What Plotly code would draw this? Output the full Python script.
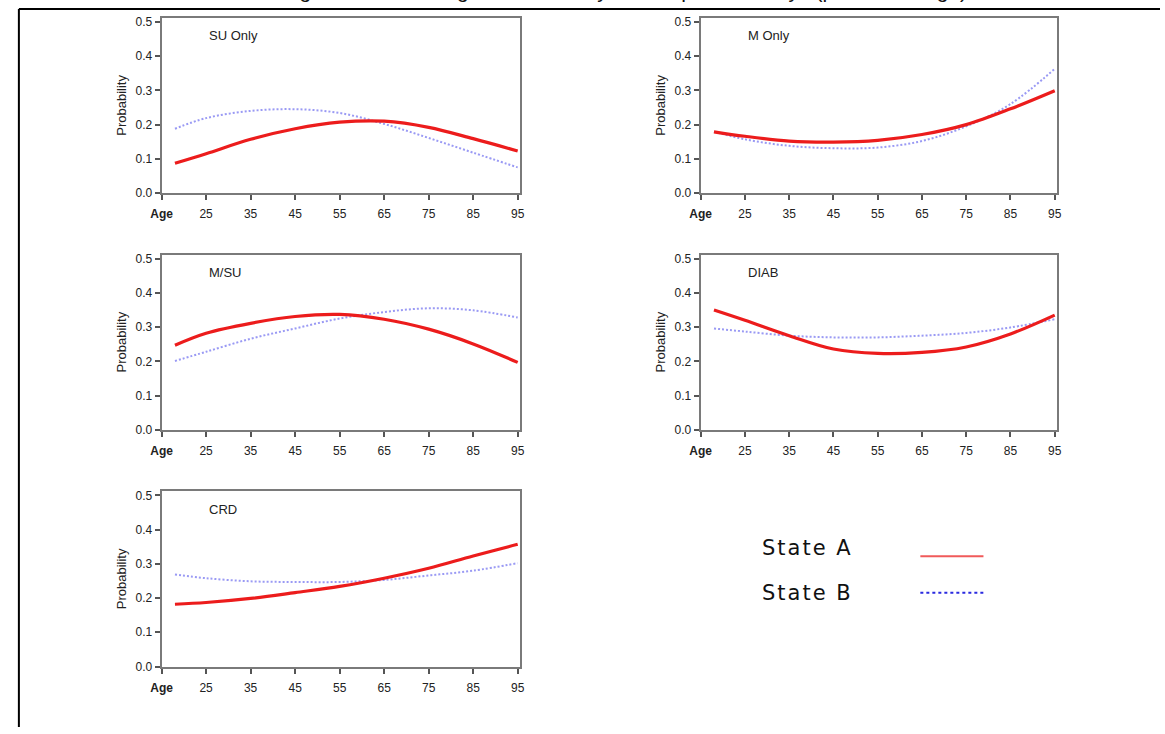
import plotly.graph_objects as go

# Age grid shared by all panels
ages = [18, 25, 35, 45, 55, 65, 75, 85, 95]

# Probability curves per diagnosis group (State A = solid red, State B = dotted blue)
su_only_a = [0.087, 0.115, 0.157, 0.188, 0.207, 0.210, 0.192, 0.159, 0.123]
su_only_b = [0.188, 0.219, 0.240, 0.245, 0.234, 0.202, 0.161, 0.118, 0.075]
m_only_a = [0.179, 0.166, 0.152, 0.149, 0.154, 0.171, 0.200, 0.246, 0.299]
m_only_b = [0.179, 0.157, 0.138, 0.131, 0.133, 0.152, 0.195, 0.260, 0.363]
m_su_a = [0.247, 0.282, 0.311, 0.331, 0.337, 0.323, 0.294, 0.251, 0.197]
m_su_b = [0.201, 0.228, 0.266, 0.296, 0.325, 0.344, 0.355, 0.349, 0.328]
diab_a = [0.350, 0.320, 0.275, 0.236, 0.223, 0.226, 0.242, 0.280, 0.335]
diab_b = [0.296, 0.287, 0.275, 0.270, 0.270, 0.275, 0.283, 0.299, 0.323]
crd_a = [0.182, 0.187, 0.199, 0.216, 0.234, 0.258, 0.287, 0.323, 0.357]
crd_b = [0.269, 0.258, 0.249, 0.247, 0.247, 0.253, 0.266, 0.280, 0.302]

panel_titles = ["SU Only", "M Only", "M/SU", "DIAB", "CRD"]
series_a = [su_only_a, m_only_a, m_su_a, diab_a, crd_a]
series_b = [su_only_b, m_only_b, m_su_b, diab_b, crd_b]

x_tick_vals = [15, 25, 35, 45, 55, 65, 75, 85, 95]
x_tick_text = ["<b>Age</b>", "25", "35", "45", "55", "65", "75", "85", "95"]
y_tick_vals = [0.0, 0.1, 0.2, 0.3, 0.4, 0.5]
y_tick_text = ["0.0", "0.1", "0.2", "0.3", "0.4", "0.5"]
legend_labels = ["State A", "State B"]

W, H = 1165, 734
FONT = "Liberation Sans, Arial, sans-serif"
RED = "#ec1c1c"
BLUE = "#9a9af4"
FRAME = "#7a7a7a"


def px_x(p):
    return p / W


def px_y(p):
    return 1 - p / H


# Panel boxes in pixels: (left, right, top, bottom)
col_lr = [(152.7, 516.0), (699.3, 1060.5)]
row_tb = [(15.0, 192.7), (255.0, 432.7), (495.0, 672.7)]
positions = [(0, 0), (0, 1), (1, 0), (1, 1), (2, 0)]

fig = go.Figure()
annotations = []

for i, (r, c) in enumerate(positions):
    n = i + 1
    xa = "x" if n == 1 else f"x{n}"
    ya = "y" if n == 1 else f"y{n}"
    fig.add_trace(go.Scatter(
        x=ages, y=series_b[i], xaxis=xa, yaxis=ya, mode="lines",
        line=dict(color=BLUE, width=2, dash="2px,2px", shape="spline"),
        showlegend=False, hoverinfo="skip"))
    fig.add_trace(go.Scatter(
        x=ages, y=series_a[i], xaxis=xa, yaxis=ya, mode="lines",
        line=dict(color=RED, width=3.2, shape="spline"),
        showlegend=False, hoverinfo="skip"))

    left, right = col_lr[c]
    top, bottom = row_tb[r]
    axis_common = dict(
        showline=True, linecolor=FRAME, linewidth=2, mirror=True,
        ticks="outside", ticklen=5, tickwidth=1.5, tickcolor="#555",
        showgrid=False, zeroline=False,
        tickfont=dict(family=FONT, size=12, color="#222"),
    )
    fig.layout[f"xaxis{n}" if n > 1 else "xaxis"] = dict(
        axis_common, domain=[px_x(left), px_x(right)], range=[15, 95.5],
        tickvals=x_tick_vals, ticktext=x_tick_text, anchor=ya,
        ticklabelstandoff=4)
    fig.layout[f"yaxis{n}" if n > 1 else "yaxis"] = dict(
        axis_common, domain=[px_y(bottom), px_y(top)], range=[0, 0.512],
        tickvals=y_tick_vals, ticktext=y_tick_text, anchor=xa,
        title=dict(text="Probability", standoff=6,
                   font=dict(family=FONT, size=13, color="#222")))

    annotations.append(dict(
        text=panel_titles[i], xref="paper", yref="paper",
        x=px_x(left + 46), y=px_y(top + 18), xanchor="left", yanchor="middle",
        showarrow=False, font=dict(family=FONT, size=13, color="#222")))

# Legend block
legend_rows = [553, 598]
for label, yy in zip(legend_labels, legend_rows):
    annotations.append(dict(
        text=f'<span style="letter-spacing:2px">{label}</span>',
        xref="paper", yref="paper", x=px_x(759), y=px_y(yy),
        xanchor="left", yanchor="middle", showarrow=False,
        font=dict(family="DejaVu Sans, sans-serif", size=21, color="#111")))

shapes = [
    dict(type="line", xref="paper", yref="paper",
         x0=px_x(922), x1=px_x(986), y0=px_y(561), y1=px_y(561),
         line=dict(color="#f05a5a", width=2)),
    dict(type="line", xref="paper", yref="paper",
         x0=px_x(922), x1=px_x(988), y0=px_y(598), y1=px_y(598),
         line=dict(color="#2a2ae0", width=2, dash="3px,3px")),
    # outer frame
    dict(type="line", xref="paper", yref="paper",
         x0=px_x(8), x1=1.0, y0=px_y(6), y1=px_y(6),
         line=dict(color="black", width=2)),
    dict(type="line", xref="paper", yref="paper",
         x0=px_x(8), x1=px_x(8), y0=px_y(6), y1=0.0,
         line=dict(color="black", width=2)),
]

# Figure heading sitting above the frame
annotations.append(dict(
    text="Figure 2: Estimating the Probability of Multiple ICU Stays (post-discharge)",
    xref="paper", yref="paper", x=px_x(622), y=px_y(1.5), xanchor="center",
    yanchor="bottom", showarrow=False,
    font=dict(family=FONT, size=21, color="#111")))

fig.update_layout(
    width=W, height=H, autosize=False,
    margin=dict(l=0, r=0, t=0, b=0),
    paper_bgcolor="white", plot_bgcolor="white",
    annotations=annotations, shapes=shapes,
    showlegend=False,
)

fig.write_html("out.html")
